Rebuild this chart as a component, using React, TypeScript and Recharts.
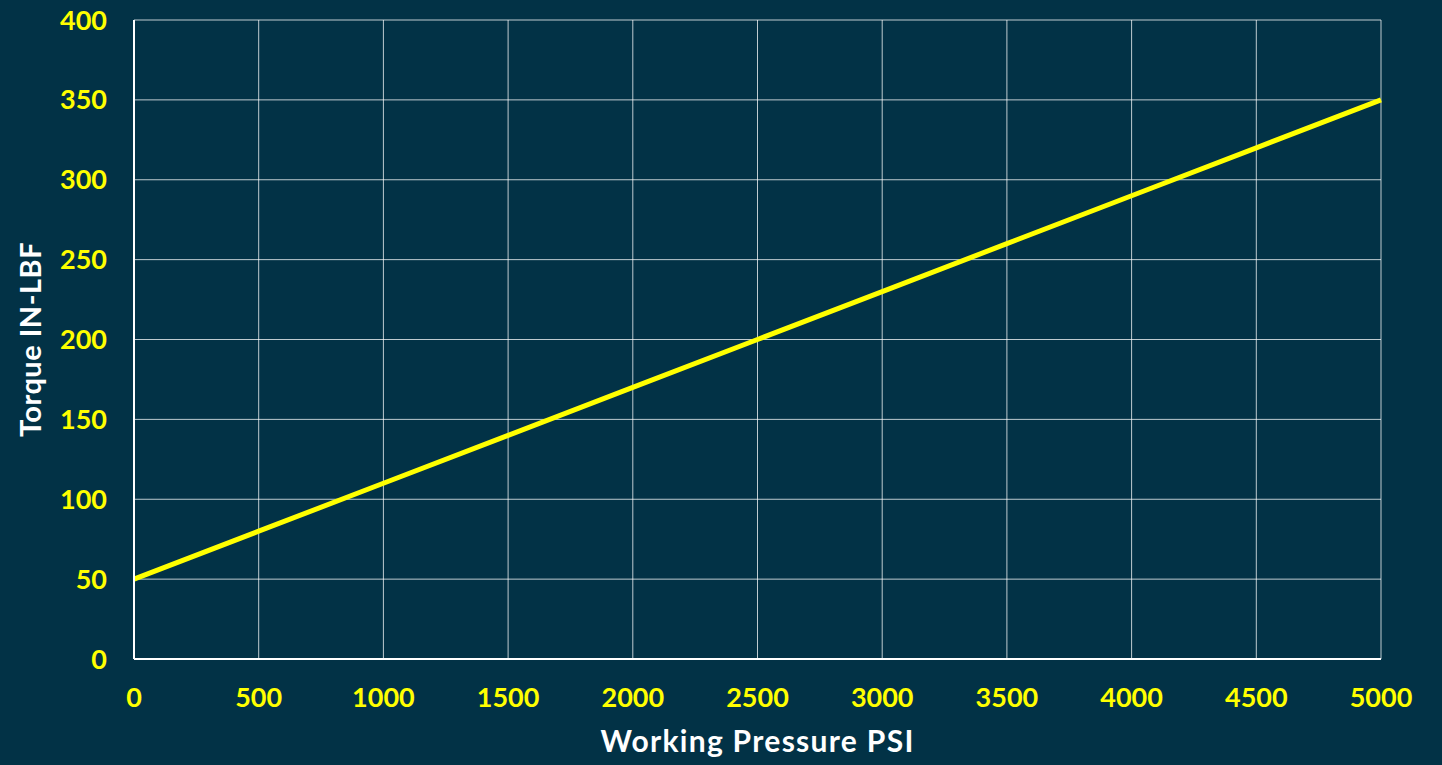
import React from 'react';
import { LineChart, Line, XAxis, YAxis, CartesianGrid } from 'recharts';

// Working pressure (PSI) and torque (IN-LBF) at each grid line
const pressure = [0, 500, 1000, 1500, 2000, 2500, 3000, 3500, 4000, 4500, 5000];
const torque = [50, 80, 110, 140, 170, 200, 230, 260, 290, 320, 350];

const xTicks = [0, 500, 1000, 1500, 2000, 2500, 3000, 3500, 4000, 4500, 5000];
const yTicks = [0, 50, 100, 150, 200, 250, 300, 350, 400];

const data = pressure.map((p, i) => ({ pressure: p, torque: torque[i] }));

const BG = '#023246';
const FONT = 'Lato, "DejaVu Sans", sans-serif';

const tickStyle = { fill: '#FFFF00', fontSize: 27, fontWeight: 700, fontFamily: FONT };
const xLabelStyle = { fill: '#FFFFFF', fontSize: 30, fontWeight: 700, fontFamily: FONT, letterSpacing: 1.3 };
const yLabelStyle = { fill: '#FFFFFF', fontSize: 29, fontWeight: 700, fontFamily: FONT, letterSpacing: 0.5 };

const App: React.FC = () => {
    return (
        <div style={{ position: 'absolute', left: 0, top: 0, width: 1442, height: 765, background: BG }}>
            <LineChart
                width={1442}
                height={765}
                data={data}
                margin={{ top: 20, right: 61, left: 0, bottom: 0 }}
            >
                <CartesianGrid stroke="#ffffff" strokeOpacity={0.75} strokeWidth={1} />
                <XAxis
                    dataKey="pressure"
                    type="number"
                    domain={[0, 5000]}
                    ticks={xTicks}
                    height={106}
                    tickLine={false}
                    tickSize={0}
                    tickMargin={29}
                    stroke="#ffffff"
                    strokeWidth={2}
                    tick={tickStyle}
                    interval={0}
                    label={{ value: 'Working Pressure PSI', position: 'center', dy: 29, style: xLabelStyle }}
                />
                <YAxis
                    type="number"
                    domain={[0, 400]}
                    ticks={yTicks}
                    width={134}
                    tickLine={false}
                    tickSize={0}
                    tickMargin={27}
                    stroke="#ffffff"
                    strokeWidth={2}
                    tick={tickStyle}
                    interval={0}
                    label={{ value: 'Torque IN-LBF', angle: -90, position: 'center', dx: -36, style: yLabelStyle }}
                />
                <Line
                    type="linear"
                    dataKey="torque"
                    stroke="#FFFF00"
                    strokeWidth={5}
                    dot={false}
                    activeDot={false}
                    isAnimationActive={false}
                />
            </LineChart>
        </div>
    );
};

export default App;
